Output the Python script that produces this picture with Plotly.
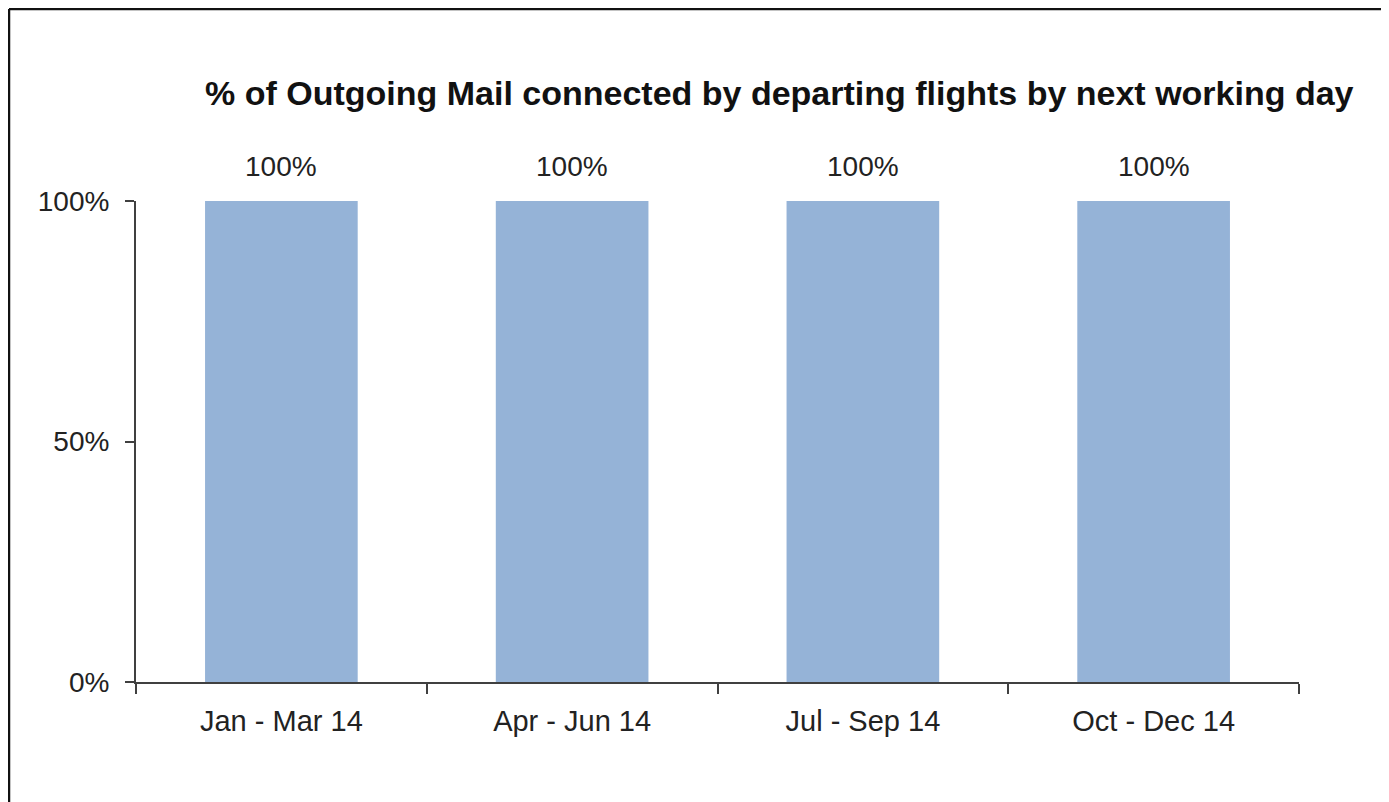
import plotly.graph_objects as go

categories = ["Jan - Mar 14", "Apr - Jun 14", "Jul - Sep 14", "Oct - Dec 14"]
values = [1.0, 1.0, 1.0, 1.0]
y_tick_vals = [0, 0.5, 1.0]
y_tick_text = ["0%", "50%", "100%"]
title_text = "% of Outgoing Mail connected by departing flights by next working day"

# page body adds an 8px offset; positions below are in figure coordinates
OFF = 8
W, H = 1389, 802
L, T = 136 - OFF, 201 - OFF
R = W - (1299 - OFF)
B = H - (682 - OFF)
pw = W - L - R
ph = H - T - B

def px_x(x):
    return (x - OFF - L) / pw

def px_y(y):
    return (H - B - (y - OFF)) / ph

FONT = "Liberation Sans, Arial, sans-serif"

fig = go.Figure()
fig.add_trace(go.Bar(
    x=categories, y=values,
    marker=dict(color="#95B3D7", line=dict(width=0)),
    width=0.525,
    hoverinfo="skip",
))

annotations = []
for c, v in zip(categories, values):
    annotations.append(dict(
        x=c, y=v, xref="x", yref="y", text=f"{v:.0%}", showarrow=False,
        yanchor="bottom", yshift=17, font=dict(family=FONT, size=28, color="#222222"),
    ))
annotations.append(dict(
    x=px_x(779), y=px_y(93), xref="paper", yref="paper", text="<b>" + title_text + "</b>",
    showarrow=False, xanchor="center", yanchor="middle",
    font=dict(family=FONT, size=34, color="#111111"),
))

shapes = [
    dict(type="line", xref="paper", yref="paper", x0=px_x(9), x1=px_x(W + 20), y0=px_y(9), y1=px_y(9),
         line=dict(color="#111111", width=2.5)),
    dict(type="line", xref="paper", yref="paper", x0=px_x(9), x1=px_x(9), y0=px_y(9), y1=px_y(H + 20),
         line=dict(color="#111111", width=2.5)),
]

fig.update_layout(
    width=W, height=H,
    margin=dict(l=L, r=R, t=T, b=B),
    paper_bgcolor="white", plot_bgcolor="white",
    showlegend=False,
    annotations=annotations,
    shapes=shapes,
    xaxis=dict(
        type="category", range=[-0.5, 3.5], tickson="boundaries",
        showline=True, linecolor="#404040", linewidth=2,
        ticks="outside", ticklen=10, tickcolor="#404040", tickwidth=2,
        showgrid=False, zeroline=False,
        tickfont=dict(family=FONT, size=29, color="#222222"),
        ticklabelstandoff=12,
    ),
    yaxis=dict(
        range=[0, 1], tickvals=y_tick_vals, ticktext=y_tick_text,
        showline=True, linecolor="#404040", linewidth=2,
        ticks="outside", ticklen=9, tickcolor="#404040", tickwidth=2,
        showgrid=False, zeroline=False,
        tickfont=dict(family=FONT, size=28, color="#222222"),
        ticklabelstandoff=10,
    ),
)

fig.write_html("out.html")
